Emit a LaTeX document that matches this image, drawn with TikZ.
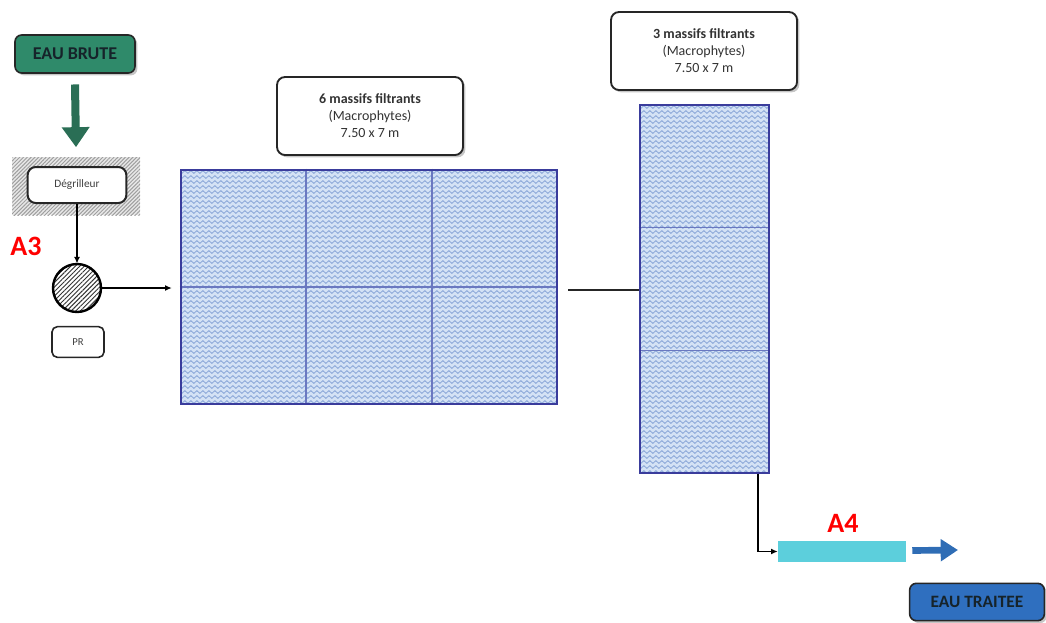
\documentclass[tikz,border=0pt]{standalone}
\usepackage{fontspec}
\setmainfont{Carlito}
\usetikzlibrary{arrows.meta,shadows,patterns,patterns.meta,decorations.pathmorphing,calc}
\definecolor{ebgreen}{HTML}{2F8A6A}
\definecolor{arrgreen}{HTML}{2A6E55}
\definecolor{etblue}{HTML}{2F6FBF}
\definecolor{arrblue}{HTML}{2F6DB5}
\definecolor{cyanbar}{HTML}{5CCFDC}
\definecolor{basinborder}{HTML}{3A3C9C}
\definecolor{basindiv}{HTML}{6A78C0}
\definecolor{wavebg}{HTML}{D4E2F5}
\definecolor{waveline}{HTML}{8AA6D8}
\definecolor{darktext}{HTML}{16232A}
\begin{document}
\begin{tikzpicture}[x=0.75pt,y=-0.75pt,
  shadowed/.style={drop shadow={shadow xshift=1.8pt,shadow yshift=-1.8pt,opacity=0.45}},
  rbox/.style={draw=black!85,line width=1.4pt,rounded corners=6pt,fill=white,inner sep=0pt},
  infobox/.style={rbox,shadowed,minimum width=139.5pt,minimum height=58.5pt,align=center,
    font=\fontsize{10.5}{12.75}\selectfont,text=black!80},
  termbox/.style={draw=black!85,line width=1.2pt,rounded corners=5pt,inner sep=0pt,shadowed,
    font=\fontsize{13.5}{15}\selectfont\bfseries,text=darktext},
  basin/.style={draw=basinborder,line width=1.9pt,fill=wavebg,inner sep=0pt,
    path picture={\foreach \k in {0,...,100}
      \draw[waveline,line width=0.6pt,decorate,decoration={snake,segment length=4.5pt,amplitude=1pt}]
        ([xshift=-3pt,yshift=-1.5pt-\k*3.75pt]path picture bounding box.north west) --
        ([xshift=3pt,yshift=-1.5pt-\k*3.75pt]path picture bounding box.north east);}},
  divider/.style={draw=basindiv,line width=1pt},
  arr/.style={-{Latex[length=5pt,width=4.5pt]},line width=0.9pt,black},
  redlabel/.style={text=red,font=\fontsize{21}{23}\selectfont\bfseries}
]
\useasboundingbox (0,0) rectangle (1046,622);

% EAU BRUTE
\node[termbox,fill=ebgreen,minimum width=90pt,minimum height=28.5pt] (eb) at (75,54) {EAU BRUTE};

% Degrilleur with hatched background
\node[minimum width=96pt,minimum height=43.5pt,preaction={fill=gray!18},
  pattern={Lines[angle=45,distance=2pt,line width=0.75pt]},pattern color=gray!75] (hatch) at (76,186) {};
\node[rbox,line width=1.5pt,minimum width=74pt,minimum height=27pt,
  font=\fontsize{8.5}{10}\selectfont,text=black!75] (degr) at (77,185) {Dégrilleur};

\draw[arrgreen,line width=6pt,-{Triangle[length=15pt,width=20pt]}]
  ([yshift=-8pt]eb.south) -- ([yshift=7pt]hatch.north);

% PR pump
\node[circle,draw,line width=1.8pt,minimum size=36pt,inner sep=0pt,preaction={fill=white},
  pattern={Lines[angle=45,distance=2.4pt,line width=0.7pt]},pattern color=black!80] (pump) at (77,288) {};
\node[rbox,line width=1.2pt,rounded corners=4pt,minimum width=39pt,minimum height=23pt,
  font=\fontsize{8}{9}\selectfont,text=black!75] (pr) at (78,342) {PR};
\node[redlabel] (a3) at (26,246) {A3};

\draw[arr] (degr.south) -- (pump.north);

% Big basin: 6 filter beds
\node[basin,minimum width=282pt,minimum height=175.5pt] (b1) at (369,287) {};
\draw[divider] ($(b1.north west)!1/3!(b1.north east)$) -- ($(b1.south west)!1/3!(b1.south east)$);
\draw[divider] ($(b1.north west)!2/3!(b1.north east)$) -- ($(b1.south west)!2/3!(b1.south east)$);
\draw[divider] (b1.west) -- (b1.east);
\node[draw=basinborder,line width=1.9pt,minimum width=282pt,minimum height=175.5pt] (b1frame) at (b1) {};

\coordinate (b1in) at ([xshift=-6pt]pump.east -| b1.west);
\draw[arr] (pump.east) -- (b1in);

\node[infobox] (info1) at (370,116) {\textbf{6 massifs filtrants}\\(Macrophytes)\\7.50 x 7 m};

% Tall basin: 3 filter beds
\node[basin,minimum width=96.75pt,minimum height=276pt] (b2) at (704.5,289) {};
\draw[divider] ($(b2.north west)!1/3!(b2.south west)$) -- ($(b2.north east)!1/3!(b2.south east)$);
\draw[divider] ($(b2.north west)!2/3!(b2.south west)$) -- ($(b2.north east)!2/3!(b2.south east)$);
\node[draw=basinborder,line width=1.9pt,minimum width=96.75pt,minimum height=276pt] (b2frame) at (b2) {};

\node[infobox] (info2) at (704,51) {\textbf{3 massifs filtrants}\\(Macrophytes)\\7.50 x 7 m};

\draw[line width=1.3pt,black!85] ([xshift=7.5pt,yshift=-2.25pt]b1.east) -- ([yshift=-2.25pt]b1.east -| b2.west);

% Output
\node[fill=cyanbar,minimum width=96pt,minimum height=15.75pt,inner sep=0pt] (cy) at (842,551.5) {};
\node[redlabel] (a4) at (843,523) {A4};
\draw[arr,line width=1.4pt] ([xshift=-9pt]b2.south east) |- (cy.west);

\coordinate (outend) at (958,550);
\draw[arrblue,line width=5pt,-{Triangle[length=13pt,width=16pt]}] ([xshift=4.5pt,yshift=0.75pt]cy.east) -- (outend);

\node[termbox,fill=etblue,minimum width=101pt,minimum height=28pt,
  font=\fontsize{13}{15}\selectfont\bfseries] (et) at (977,602) {EAU TRAITEE};
\end{tikzpicture}
\end{document}
